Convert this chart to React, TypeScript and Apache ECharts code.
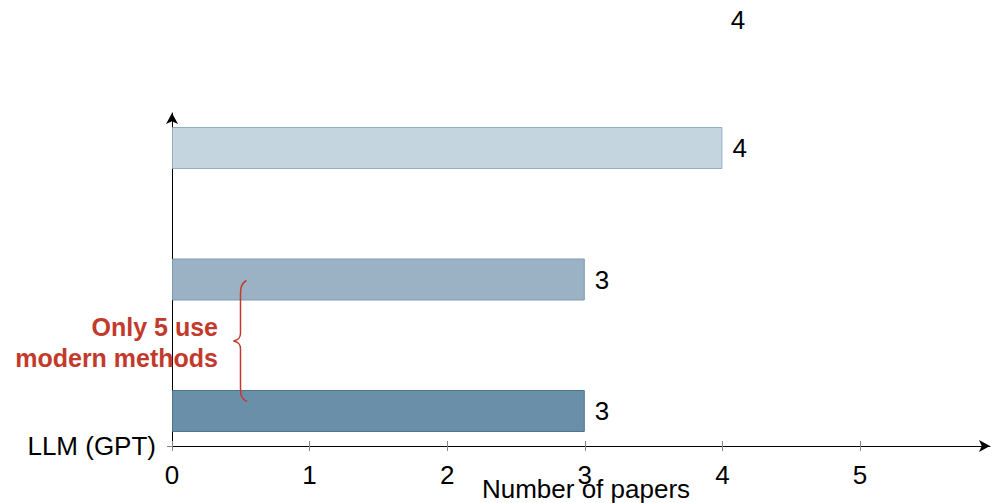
import React, { useEffect, useRef } from "react";
import * as echarts from "echarts";

// ---- data ----
const axisCategories = ["LLM (GPT)", ""];
const barCategories = ["Bar A", "Bar B", "Bar C"]; // bottom to top
const barValues = [3, 3, 4];
const barColors = ["#6a8fa9", "#9ab2c4", "#c5d5df"];
const barBorders = ["#4d7491", "#7e9db3", "#93adc0"];
const xTicks = [0, 1, 2, 3, 4, 5];
const xMax = 5.945;
const xAxisName = "Number of papers";
const strayLabel = "4";
const noteText = "Only 5 use\nmodern methods";

const FONT = "Liberation Sans";
const RED = "#c23a2c";

echarts.graphic.registerShape(
  "brace",
  echarts.graphic.extendPath(
    "M 246.5 280.5 C 241.5 283 240.5 287 240.5 293 L 240.5 333 C 240.5 338 238.5 340 233.5 341 C 238.5 342 240.5 344 240.5 349 L 240.5 389 C 240.5 395 241.5 399 247 401.5",
    {}
  )
);

export default function App() {
  const ref = useRef<HTMLDivElement>(null);
  useEffect(() => {
    if (!ref.current) return;
    const chart = echarts.init(ref.current, null, { renderer: "svg" });
    const option: any = {
      animation: false,
      textStyle: { fontFamily: FONT },
      grid: [
        { left: 172, right: 6, top: 113, bottom: 57, outerBoundsMode: "none", containLabel: false },
        { left: 172, right: 6, top: 82.25, bottom: 26.25, outerBoundsMode: "none", containLabel: false },
      ],
      xAxis: [
        {
          type: "value",
          gridIndex: 0,
          min: 0,
          max: xMax,
          axisLine: {
            show: true,
            symbol: ["none", "arrow"],
            symbolSize: [9, 11],
            lineStyle: { color: "#000", width: 1 },
          },
          axisTick: {
            show: true,
            length: 5,
            customValues: xTicks,
            lineStyle: { color: "#888" },
          },
          axisLabel: {
            customValues: xTicks,
            fontSize: 26,
            color: "#000",
            margin: 16,
            fontFamily: FONT,
          },
          splitLine: { show: false },
          name: xAxisName,
          nameLocation: "middle",
          nameGap: 30,
          nameMoveOverlap: false,
          nameTextStyle: { fontSize: 26, color: "#000", fontFamily: FONT, padding: [0, 0, 0, 10] },
        },
        {
          type: "value",
          gridIndex: 1,
          min: 0,
          max: xMax,
          show: false,
        },
        {
          type: "value",
          gridIndex: 0,
          position: "bottom",
          min: 0,
          max: xMax,
          axisLine: { show: false },
          axisTick: {
            show: true,
            inside: true,
            length: 5,
            customValues: xTicks,
            lineStyle: { color: "#888" },
          },
          axisLabel: { show: false },
          splitLine: { show: false },
        },
      ],
      yAxis: [
        {
          type: "category",
          gridIndex: 0,
          data: axisCategories,
          boundaryGap: false,
          axisLine: {
            show: true,
            symbol: ["none", "arrow"],
            symbolSize: [9, 11],
            lineStyle: { color: "#000", width: 1 },
          },
          axisTick: {
            show: true,
            length: 5,
            interval: (i: number) => i === 0,
            lineStyle: { color: "#888" },
          },
          axisLabel: {
            fontSize: 26,
            color: "#000",
            margin: 16,
            fontFamily: FONT,
            interval: 0,
          },
          splitLine: { show: false },
        },
        {
          type: "category",
          gridIndex: 1,
          data: barCategories,
          show: false,
        },
      ],
      series: [
        {
          type: "bar",
          xAxisIndex: 1,
          yAxisIndex: 1,
          barWidth: 42,
          data: barValues.map((v, i) => ({
            value: v,
            itemStyle: { color: barColors[i], borderColor: barBorders[i], borderWidth: 1 },
          })),
          label: {
            show: true,
            position: "right",
            distance: 10,
            fontSize: 26,
            color: "#000",
            fontFamily: FONT,
          },
          z: 1,
        },
      ],
      graphic: [
        {
          type: "text",
          x: 738,
          y: 20,
          style: {
            text: strayLabel,
            fontSize: 26,
            fill: "#000",
            fontFamily: FONT,
            textAlign: "center",
            textVerticalAlign: "middle",
          },
        },
        {
          type: "text",
          x: 218,
          y: 342,
          z: 10,
          style: {
            text: noteText,
            fontSize: 25,
            fontWeight: "bold",
            lineHeight: 31,
            fill: RED,
            fontFamily: FONT,
            textAlign: "right",
            textVerticalAlign: "middle",
          },
        },
        {
          type: "brace",
          x: 0,
          y: 0,
          z: 10,
          style: { stroke: RED, fill: "none", lineWidth: 1.5 },
        },
      ],
    };
    chart.setOption(option);
    return () => chart.dispose();
  }, []);
  return (
    <div
      ref={ref}
      style={{ position: "fixed", left: 0, top: 0, width: 996, height: 503, background: "#fff" }}
    />
  );
}
